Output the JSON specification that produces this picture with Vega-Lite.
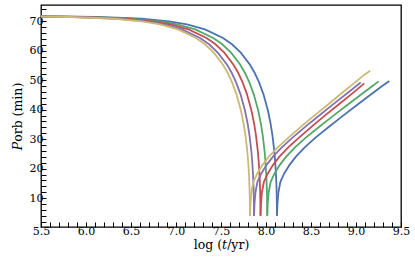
{
  "$schema": "https://vega.github.io/schema/vega-lite/v6.json",
  "width": 360,
  "height": 222,
  "autosize": {"type": "none"},
  "padding": {"left": 41, "top": 5, "right": 14, "bottom": 37},
  "background": "white",
  "config": {
    "view": {"stroke": "black", "strokeWidth": 1.3}
  },
  "data": {"values": [
    {"m":"a","b":"i","t":5.5,"p":71.6},{"m":"a","b":"i","t":6.122,"p":71.43},{"m":"a","b":"i","t":6.622,"p":70.84},{"m":"a","b":"i","t":6.922,"p":69.97},{"m":"a","b":"i","t":7.122,"p":68.92},{"m":"a","b":"i","t":7.322,"p":67.21},{"m":"a","b":"i","t":7.522,"p":64.33},{"m":"a","b":"i","t":7.622,"p":62.17},{"m":"a","b":"i","t":7.722,"p":59.27},{"m":"a","b":"i","t":7.822,"p":55.24},{"m":"a","b":"i","t":7.872,"p":52.6},{"m":"a","b":"i","t":7.922,"p":49.33},{"m":"a","b":"i","t":7.972,"p":45.19},{"m":"a","b":"i","t":8.022,"p":39.62},{"m":"a","b":"i","t":8.052,"p":35.1},{"m":"a","b":"i","t":8.072,"p":31.2},{"m":"a","b":"i","t":8.092,"p":25.97},{"m":"a","b":"i","t":8.102,"p":22.42},{"m":"a","b":"i","t":8.112,"p":17.36},{"m":"a","b":"i","t":8.117,"p":13.41},{"m":"a","b":"i","t":8.12,"p":9.53},{"m":"a","b":"i","t":8.122,"p":4},
    {"m":"a","b":"r","t":8.122,"p":4},{"m":"a","b":"r","t":8.127,"p":8},{"m":"a","b":"r","t":8.138,"p":12},{"m":"a","b":"r","t":8.16,"p":15.5},{"m":"a","b":"r","t":8.2,"p":18.2},{"m":"a","b":"r","t":8.26,"p":21.2},{"m":"a","b":"r","t":8.33,"p":24},{"m":"a","b":"r","t":8.43,"p":27.2},{"m":"a","b":"r","t":8.55,"p":30.5},{"m":"a","b":"r","t":8.7,"p":34.2},{"m":"a","b":"r","t":8.85,"p":37.8},{"m":"a","b":"r","t":9.0,"p":41.3},{"m":"a","b":"r","t":9.15,"p":44.8},{"m":"a","b":"r","t":9.28,"p":47.8},{"m":"a","b":"r","t":9.37,"p":49.7},
    {"m":"b","b":"i","t":5.5,"p":71.6},{"m":"b","b":"i","t":6.014,"p":71.43},{"m":"b","b":"i","t":6.514,"p":70.84},{"m":"b","b":"i","t":6.814,"p":69.97},{"m":"b","b":"i","t":7.014,"p":68.92},{"m":"b","b":"i","t":7.214,"p":67.21},{"m":"b","b":"i","t":7.414,"p":64.33},{"m":"b","b":"i","t":7.514,"p":62.17},{"m":"b","b":"i","t":7.614,"p":59.27},{"m":"b","b":"i","t":7.714,"p":55.24},{"m":"b","b":"i","t":7.764,"p":52.6},{"m":"b","b":"i","t":7.814,"p":49.33},{"m":"b","b":"i","t":7.864,"p":45.19},{"m":"b","b":"i","t":7.914,"p":39.62},{"m":"b","b":"i","t":7.944,"p":35.1},{"m":"b","b":"i","t":7.964,"p":31.2},{"m":"b","b":"i","t":7.984,"p":25.97},{"m":"b","b":"i","t":7.994,"p":22.42},{"m":"b","b":"i","t":8.004,"p":17.36},{"m":"b","b":"i","t":8.009,"p":13.41},{"m":"b","b":"i","t":8.012,"p":9.53},{"m":"b","b":"i","t":8.014,"p":4},
    {"m":"b","b":"r","t":8.014,"p":4},{"m":"b","b":"r","t":8.019,"p":8},{"m":"b","b":"r","t":8.03,"p":12},{"m":"b","b":"r","t":8.052,"p":15.5},{"m":"b","b":"r","t":8.092,"p":18.2},{"m":"b","b":"r","t":8.152,"p":21.2},{"m":"b","b":"r","t":8.222,"p":24},{"m":"b","b":"r","t":8.322,"p":27.2},{"m":"b","b":"r","t":8.442,"p":30.5},{"m":"b","b":"r","t":8.592,"p":34.2},{"m":"b","b":"r","t":8.742,"p":37.8},{"m":"b","b":"r","t":8.892,"p":41.3},{"m":"b","b":"r","t":9.042,"p":44.8},{"m":"b","b":"r","t":9.172,"p":47.8},{"m":"b","b":"r","t":9.252,"p":49.6},
    {"m":"c","b":"i","t":5.5,"p":71.6},{"m":"c","b":"i","t":5.939,"p":71.43},{"m":"c","b":"i","t":6.439,"p":70.84},{"m":"c","b":"i","t":6.739,"p":69.97},{"m":"c","b":"i","t":6.939,"p":68.92},{"m":"c","b":"i","t":7.139,"p":67.21},{"m":"c","b":"i","t":7.339,"p":64.33},{"m":"c","b":"i","t":7.439,"p":62.17},{"m":"c","b":"i","t":7.539,"p":59.27},{"m":"c","b":"i","t":7.639,"p":55.24},{"m":"c","b":"i","t":7.689,"p":52.6},{"m":"c","b":"i","t":7.739,"p":49.33},{"m":"c","b":"i","t":7.789,"p":45.19},{"m":"c","b":"i","t":7.839,"p":39.62},{"m":"c","b":"i","t":7.869,"p":35.1},{"m":"c","b":"i","t":7.889,"p":31.2},{"m":"c","b":"i","t":7.909,"p":25.97},{"m":"c","b":"i","t":7.919,"p":22.42},{"m":"c","b":"i","t":7.929,"p":17.36},{"m":"c","b":"i","t":7.934,"p":13.41},{"m":"c","b":"i","t":7.937,"p":9.53},{"m":"c","b":"i","t":7.939,"p":4},
    {"m":"c","b":"r","t":7.939,"p":4},{"m":"c","b":"r","t":7.944,"p":8},{"m":"c","b":"r","t":7.955,"p":12},{"m":"c","b":"r","t":7.977,"p":15.5},{"m":"c","b":"r","t":8.017,"p":18.2},{"m":"c","b":"r","t":8.077,"p":21.2},{"m":"c","b":"r","t":8.147,"p":24},{"m":"c","b":"r","t":8.247,"p":27.2},{"m":"c","b":"r","t":8.367,"p":30.5},{"m":"c","b":"r","t":8.517,"p":34.5},{"m":"c","b":"r","t":8.667,"p":38.3},{"m":"c","b":"r","t":8.817,"p":42.0},{"m":"c","b":"r","t":8.967,"p":45.7},{"m":"c","b":"r","t":9.092,"p":48.9},
    {"m":"d","b":"i","t":5.5,"p":71.6},{"m":"d","b":"i","t":5.867,"p":71.43},{"m":"d","b":"i","t":6.367,"p":70.84},{"m":"d","b":"i","t":6.667,"p":69.97},{"m":"d","b":"i","t":6.867,"p":68.92},{"m":"d","b":"i","t":7.067,"p":67.21},{"m":"d","b":"i","t":7.267,"p":64.33},{"m":"d","b":"i","t":7.367,"p":62.17},{"m":"d","b":"i","t":7.467,"p":59.27},{"m":"d","b":"i","t":7.567,"p":55.24},{"m":"d","b":"i","t":7.617,"p":52.6},{"m":"d","b":"i","t":7.667,"p":49.33},{"m":"d","b":"i","t":7.717,"p":45.19},{"m":"d","b":"i","t":7.767,"p":39.62},{"m":"d","b":"i","t":7.797,"p":35.1},{"m":"d","b":"i","t":7.817,"p":31.2},{"m":"d","b":"i","t":7.837,"p":25.97},{"m":"d","b":"i","t":7.847,"p":22.42},{"m":"d","b":"i","t":7.857,"p":17.36},{"m":"d","b":"i","t":7.862,"p":13.41},{"m":"d","b":"i","t":7.865,"p":9.53},{"m":"d","b":"i","t":7.867,"p":4},
    {"m":"d","b":"r","t":7.867,"p":4},{"m":"d","b":"r","t":7.872,"p":8},{"m":"d","b":"r","t":7.883,"p":12},{"m":"d","b":"r","t":7.905,"p":15.5},{"m":"d","b":"r","t":7.945,"p":18.2},{"m":"d","b":"r","t":8.005,"p":21.2},{"m":"d","b":"r","t":8.075,"p":24},{"m":"d","b":"r","t":8.175,"p":27.2},{"m":"d","b":"r","t":8.295,"p":30.5},{"m":"d","b":"r","t":8.445,"p":34.4},{"m":"d","b":"r","t":8.595,"p":38.1},{"m":"d","b":"r","t":8.745,"p":41.8},{"m":"d","b":"r","t":8.895,"p":45.4},{"m":"d","b":"r","t":9.052,"p":49.2},
    {"m":"e","b":"i","t":5.5,"p":71.6},{"m":"e","b":"i","t":5.822,"p":71.43},{"m":"e","b":"i","t":6.322,"p":70.84},{"m":"e","b":"i","t":6.622,"p":69.97},{"m":"e","b":"i","t":6.822,"p":68.92},{"m":"e","b":"i","t":7.022,"p":67.21},{"m":"e","b":"i","t":7.222,"p":64.33},{"m":"e","b":"i","t":7.322,"p":62.17},{"m":"e","b":"i","t":7.422,"p":59.27},{"m":"e","b":"i","t":7.522,"p":55.24},{"m":"e","b":"i","t":7.572,"p":52.6},{"m":"e","b":"i","t":7.622,"p":49.33},{"m":"e","b":"i","t":7.672,"p":45.19},{"m":"e","b":"i","t":7.722,"p":39.62},{"m":"e","b":"i","t":7.752,"p":35.1},{"m":"e","b":"i","t":7.772,"p":31.2},{"m":"e","b":"i","t":7.792,"p":25.97},{"m":"e","b":"i","t":7.802,"p":22.42},{"m":"e","b":"i","t":7.812,"p":17.36},{"m":"e","b":"i","t":7.817,"p":13.41},{"m":"e","b":"i","t":7.82,"p":9.53},{"m":"e","b":"i","t":7.822,"p":4},
    {"m":"e","b":"r","t":7.822,"p":4},{"m":"e","b":"r","t":7.827,"p":8},{"m":"e","b":"r","t":7.838,"p":12},{"m":"e","b":"r","t":7.86,"p":15.5},{"m":"e","b":"r","t":7.9,"p":18.2},{"m":"e","b":"r","t":7.96,"p":21.2},{"m":"e","b":"r","t":8.03,"p":24},{"m":"e","b":"r","t":8.13,"p":27.2},{"m":"e","b":"r","t":8.25,"p":30.5},{"m":"e","b":"r","t":8.4,"p":34.5},{"m":"e","b":"r","t":8.55,"p":38.3},{"m":"e","b":"r","t":8.7,"p":42.0},{"m":"e","b":"r","t":8.85,"p":45.8},{"m":"e","b":"r","t":8.98,"p":49.0},{"m":"e","b":"r","t":9.07,"p":51.3},{"m":"e","b":"r","t":9.156,"p":53.2}
  ]},
  "mark": {"type": "line", "strokeWidth": 1.8},
  "encoding": {
    "x": {"field": "t", "type": "quantitative", "scale": {"domain": [5.5, 9.5], "nice": false, "zero": false},
      "axis": {"orient": "bottom",
        "values": [5.5,5.6,5.7,5.8,5.9,6.0,6.1,6.2,6.3,6.4,6.5,6.6,6.7,6.8,6.9,7.0,7.1,7.2,7.3,7.4,7.5,7.6,7.7,7.8,7.9,8.0,8.1,8.2,8.3,8.4,8.5,8.6,8.7,8.8,8.9,9.0,9.1,9.2,9.3,9.4,9.5],
        "labelExpr": "abs(datum.value * 2 - round(datum.value * 2)) < 0.01 ? format(datum.value, '.1f') : ''",
        "encode": {"ticks": {"update": {"y2": {"signal": "abs(datum.value * 2 - round(datum.value * 2)) < 0.01 ? -5 : -2.5"}}}},
        "domain": false, "grid": false, "ticks": true, "tickColor": "black", "tickWidth": 1, "tickSize": -5, "labelPadding": 3, "labelFlush": false, "labelOverlap": false, "labelFont": "DejaVu Serif", "labelFontSize": 11, "labelColor": "black", "title": "log (𝑡/yr)", "titleFont": "DejaVu Serif", "titleFontSize": 12.5, "titleFontWeight": "normal", "titleColor": "black", "titlePadding": 2}},
    "y": {"field": "p", "type": "quantitative", "scale": {"domain": [0.2, 75.5], "nice": false, "zero": false},
      "axis": {"orient": "left",
        "values": [2,4,6,8,10,12,14,16,18,20,22,24,26,28,30,32,34,36,38,40,42,44,46,48,50,52,54,56,58,60,62,64,66,68,70,72,74],
        "labelExpr": "datum.value % 10 === 0 ? format(datum.value, 'd') : ''",
        "encode": {"ticks": {"update": {"x2": {"signal": "datum.value % 10 === 0 ? 5 : 2.5"}}}},
        "domain": false, "grid": false, "ticks": true, "tickColor": "black", "tickWidth": 1, "tickSize": -5, "labelPadding": 3, "labelFlush": false, "labelOverlap": false, "labelFont": "DejaVu Serif", "labelFontSize": 11, "labelColor": "black", "title": "𝑃orb (min)", "titleFont": "DejaVu Serif", "titleFontSize": 12.5, "titleFontWeight": "normal", "titleColor": "black", "titlePadding": 5}},
    "color": {"field": "m", "type": "nominal", "legend": null,
      "scale": {"domain": ["a", "b", "c", "d", "e"], "range": ["#4C72B0", "#55A868", "#C44E52", "#8172B2", "#CCB974"]}},
    "detail": {"field": "b", "type": "nominal"}
  }
}
